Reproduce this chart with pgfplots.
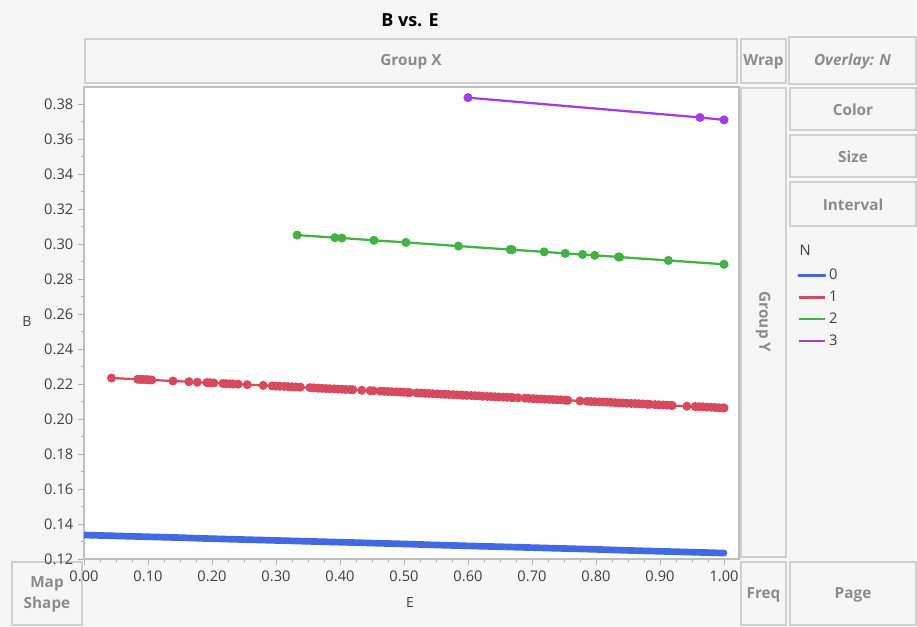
\documentclass[border=0pt]{standalone}
\usepackage{fontspec}
\setmainfont{Open Sans}
\usepackage{pgfplots}
\pgfplotsset{compat=1.18}
\definecolor{bgc}{HTML}{F6F6F6}
\definecolor{panelc}{HTML}{CFCFCF}
\definecolor{labc}{HTML}{8C8C8C}
\definecolor{tickc}{HTML}{404040}
\definecolor{cN0}{HTML}{4169E1}
\definecolor{cN1}{HTML}{D64A5E}
\definecolor{cN2}{HTML}{45B045}
\definecolor{cN3}{HTML}{A23CE6}

% box with a centred grey label, in pixel coordinates
\newcommand{\panel}[5]{%
  \draw[panelc, line width=1.4, fill=bgc] (#1,#2) rectangle (#3,#4);
  \node[labc, font=\bfseries\fontsize{11.5}{16}\selectfont, align=center]
    at ({(#1+#3)/2},{(#2+#4)/2+1}) {#5};}

\begin{document}
\begin{tikzpicture}[x=0.75pt,y=-0.75pt]
\fill[bgc] (0,0) rectangle (917,627);

\node[font=\bfseries\fontsize{13.5}{15}\selectfont] at (410,20) {B vs. E};

\panel{85}{39}{737}{83}{Group X}
\panel{741}{39}{786}{83}{Wrap}
\panel{789}{37}{916}{84}{\itshape Overlay: N}
\panel{790}{88}{916}{130}{Color}
\panel{790}{135}{916}{177}{Size}
\panel{790}{182}{916}{226}{Interval}
\panel{741}{88}{786}{557}{}
\node[labc, font=\bfseries\fontsize{11.5}{13}\selectfont, rotate=-90] at (763,322) {Group Y};
\panel{741}{562}{786}{625}{Freq}
\panel{790}{562}{916}{625}{Page}
\panel{12}{562}{82}{625}{Map\\Shape}

\node[tickc, font=\fontsize{10.5}{12}\selectfont] at (27,322) {B};
\node[tickc, font=\fontsize{10.5}{12}\selectfont] at (410,602) {E};
\node[tickc, font=\fontsize{11}{13}\selectfont, anchor=west] at (795,250) {N};

\begin{axis}[
    at={(63pt,-419.25pt)}, anchor=south west,
    scale only axis, width=491.25pt, height=354pt,
    xmin=0, xmax=1.0234, ymin=0.12, ymax=0.3897,
    axis background/.style={fill=white},
    axis line style={draw=gray!50, line width=0.8pt},
    xtick={0,0.1,0.2,0.3,0.4,0.5,0.6,0.7,0.8,0.9,1.0},
    ytick={0.12,0.14,0.16,0.18,0.20,0.22,0.24,0.26,0.28,0.30,0.32,0.34,0.36,0.38},
    minor x tick num=3, minor y tick num=1,
    tick align=outside, xtick pos=bottom, ytick pos=left,
    major tick length=4.5pt, minor tick length=2.5pt,
    tick style={draw=gray!60, line width=0.6pt},
    ticklabel style={font=\fontsize{11}{13}\selectfont, text=tickc},
    xticklabel style={yshift=-1pt},
    /pgf/number format/.cd, fixed, fixed zerofill, precision=2, assume math mode=true,
    /pgfplots/.cd,
    legend style={at={(1.0886,0.6200)}, anchor=north west, draw=none, fill=none,
        font=\fontsize{11}{13}\selectfont, text=tickc, row sep=2.9pt,
        inner sep=0pt, cells={anchor=west}},
    legend image code/.code={\draw[#1, mark=none, line width=1.8pt] (0pt,0pt) -- (20pt,0pt);},
]
% N = 0
\addplot[cN0, line width=5pt, line cap=round, mark=none] coordinates {
(0.00,0.1337)(0.05,0.1332)(0.10,0.1327)(0.15,0.1322)(0.20,0.1316)(0.25,0.1311)
(0.30,0.1306)(0.35,0.1301)(0.40,0.1296)(0.45,0.1291)(0.50,0.1286)(0.55,0.1280)
(0.60,0.1275)(0.65,0.1270)(0.70,0.1265)(0.75,0.1260)(0.80,0.1255)(0.85,0.1249)
(0.90,0.1244)(0.95,0.1239)(1.00,0.1234)};
\addlegendentry{0}
% N = 1
\addplot[cN1, line width=1.7pt, mark=*, mark size=2.5pt] coordinates {
(0.043,0.2234)(0.084,0.2227)(0.088,0.2226)(0.092,0.2226)(0.097,0.2225)(0.101,0.2224)
(0.106,0.2223)(0.139,0.2217)(0.164,0.2213)(0.177,0.2210)(0.192,0.2208)(0.197,0.2207)
(0.203,0.2206)(0.217,0.2203)(0.222,0.2202)(0.228,0.2201)(0.233,0.2200)(0.241,0.2199)
(0.255,0.2196)(0.280,0.2192)(0.294,0.2189)(0.300,0.2188)(0.306,0.2187)(0.313,0.2186)
(0.319,0.2185)(0.325,0.2184)(0.331,0.2183)(0.338,0.2182)(0.353,0.2179)(0.359,0.2178)
(0.366,0.2176)(0.372,0.2175)(0.378,0.2174)(0.384,0.2173)(0.391,0.2172)(0.397,0.2171)
(0.403,0.2170)(0.409,0.2169)(0.416,0.2168)(0.420,0.2167)(0.434,0.2164)(0.447,0.2162)
(0.452,0.2161)(0.463,0.2159)(0.469,0.2158)(0.475,0.2157)(0.481,0.2156)(0.488,0.2155)
(0.494,0.2154)(0.500,0.2153)(0.506,0.2151)(0.509,0.2151)(0.520,0.2149)(0.527,0.2148)
(0.533,0.2147)(0.539,0.2146)(0.545,0.2144)(0.552,0.2143)(0.558,0.2142)(0.564,0.2141)
(0.570,0.2140)(0.577,0.2139)(0.583,0.2138)(0.589,0.2137)(0.592,0.2136)(0.598,0.2135)
(0.605,0.2134)(0.611,0.2133)(0.617,0.2132)(0.623,0.2130)(0.630,0.2129)(0.636,0.2128)
(0.642,0.2127)(0.648,0.2126)(0.655,0.2125)(0.661,0.2124)(0.667,0.2123)(0.670,0.2122)
(0.678,0.2121)(0.689,0.2119)(0.695,0.2118)(0.702,0.2116)(0.708,0.2115)(0.714,0.2114)
(0.720,0.2113)(0.727,0.2112)(0.733,0.2111)(0.739,0.2110)(0.745,0.2109)(0.752,0.2107)
(0.756,0.2107)(0.775,0.2103)(0.786,0.2101)(0.792,0.2100)(0.798,0.2099)(0.805,0.2098)
(0.811,0.2097)(0.817,0.2096)(0.823,0.2095)(0.830,0.2093)(0.836,0.2092)(0.842,0.2091)
(0.848,0.2090)(0.855,0.2089)(0.861,0.2088)(0.867,0.2087)(0.873,0.2086)(0.880,0.2084)
(0.884,0.2084)(0.892,0.2082)(0.898,0.2081)(0.905,0.2080)(0.911,0.2079)(0.917,0.2078)
(0.919,0.2077)(0.942,0.2073)(0.955,0.2071)(0.961,0.2070)(0.967,0.2069)(0.973,0.2068)
(0.980,0.2067)(0.986,0.2066)(0.992,0.2064)(0.998,0.2063)(1.000,0.2063)};
\addlegendentry{1}
% N = 2
\addplot[cN2, line width=1.7pt, mark=*, mark size=2.5pt] coordinates {
(0.333,0.3051)(0.392,0.3036)(0.403,0.3034)(0.453,0.3021)(0.503,0.3009)(0.585,0.2988)
(0.666,0.2968)(0.669,0.2967)(0.719,0.2955)(0.752,0.2946)(0.779,0.2940)(0.798,0.2935)
(0.835,0.2926)(0.837,0.2925)(0.913,0.2906)(1.000,0.2884)};
\addlegendentry{2}
% N = 3
\addplot[cN3, line width=1.7pt, mark=*, mark size=2.5pt] coordinates {
(0.600,0.3836)(0.9625,0.3723)(1.000,0.3709)};
\addlegendentry{3}
\end{axis}

\pgfresetboundingbox
\useasboundingbox (0,0) rectangle (917,627);
\end{tikzpicture}
\end{document}
